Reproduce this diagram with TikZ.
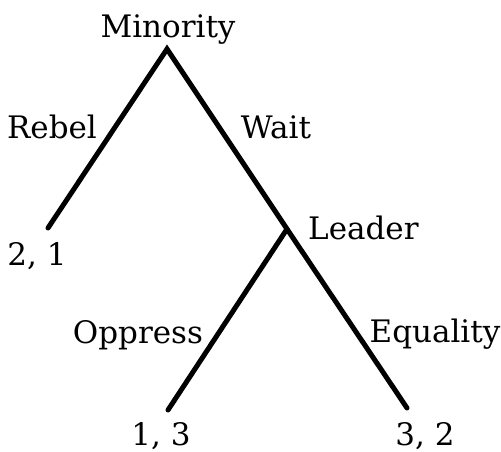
\documentclass[tikz,border=0pt]{standalone}
\usepackage{fontspec}
\setmainfont{DejaVu Serif}
\begin{document}
\begin{tikzpicture}[x=1pt,y=-1pt,
  lbl/.style={anchor=base,inner sep=0pt,font=\fontsize{31}{31}\selectfont},
  branch/.style={line width=5pt,line cap=round,line join=miter}]
\useasboundingbox (0,0) rectangle (501,451);
\coordinate (root) at (167,49);
\coordinate (rebelend) at (48,228);
\coordinate (leader) at (287,229);
\coordinate (oppend) at (168,410);
\coordinate (eqend) at (407,408);
\draw[branch] (rebelend) -- (root) -- (leader) -- (eqend);
\draw[branch] (leader) -- (oppend);
\node[lbl] (tminority) at (168,37) {Minority};
\node[lbl] (trebel) at (52,138) {Rebel};
\node[lbl] (twait) at (276,138) {Wait};
\node[lbl] (tp21) at (37,265) {2, 1};
\node[lbl,anchor=base west] (tleader) at (308,239) {Leader};
\node[lbl] (toppress) at (138,343) {Oppress};
\node[lbl] (tequality) at (435,342) {Equality};
\node[lbl] (tp13) at (161,445) {1, 3};
\node[lbl] (tp32) at (425,445) {3, 2};
\end{tikzpicture}
\end{document}
